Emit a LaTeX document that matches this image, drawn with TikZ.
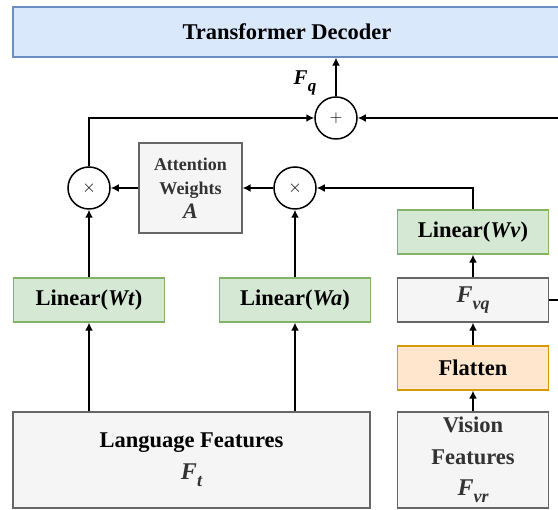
\documentclass[tikz,border=0pt]{standalone}
\usepackage{fontspec}
\setmainfont{Liberation Serif}
\usetikzlibrary{arrows.meta}
\definecolor{decfill}{HTML}{DAE8FC}
\definecolor{decline}{HTML}{6C8EBF}
\definecolor{grnfill}{HTML}{D5E8D4}
\definecolor{grnline}{HTML}{82B366}
\definecolor{orgfill}{HTML}{FFE6CC}
\definecolor{orgline}{HTML}{D79B00}
\definecolor{gryfill}{HTML}{F5F5F5}
\definecolor{gryline}{HTML}{666666}
\definecolor{grytext}{HTML}{333333}
\newcommand{\lowsub}[2]{\raisebox{-0.3em}{\fontsize{#1}{#1}\selectfont\bfseries\itshape #2}}
\begin{document}
\begin{tikzpicture}[x=1pt,y=-1pt,
  box/.style={draw, line width=1.3pt, inner sep=0pt, align=center,
    font=\fontsize{22.5}{25}\selectfont\bfseries},
  decbox/.style={box, fill=decfill, draw=decline},
  grnbox/.style={box, fill=grnfill, draw=grnline, minimum width=151pt, minimum height=44pt},
  orgbox/.style={box, fill=orgfill, draw=orgline, minimum width=151pt, minimum height=44pt},
  grybox/.style={box, fill=gryfill, draw=gryline, text=grytext},
  opnode/.style={circle, draw, line width=1.5pt, fill=white, minimum size=42pt, inner sep=0pt,
    font=\fontsize{17}{17}\selectfont},
  arr/.style={line width=1.6pt, -{Latex[length=8pt,width=8pt]}},
  ln/.style={line width=1.6pt}
]
\useasboundingbox (0,0) rectangle (558,510);
\clip (0,0) rectangle (558,510);

% boxes
\node[decbox, minimum width=548pt, minimum height=50pt] (dec) at (287,32) {Transformer Decoder};
\node[opnode] (plus) at (336,118) {$+$};
\node[opnode] (t1) at (89,188) {$\times$};
\node[opnode] (t2) at (295,188) {$\times$};
\node[grybox, minimum width=103pt, minimum height=90pt,
  font=\fontsize{18}{24}\selectfont\bfseries] (attn) at (190.5,188)
  {Attention\\Weights\\{\fontsize{22}{22}\selectfont\itshape A}};
\node[grnbox] (wt) at (89,300) {Linear(\textit{Wt})};
\node[grnbox] (wa) at (295,300) {Linear(\textit{Wa})};
\node[grnbox] (wv) at (473,232) {Linear(\textit{Wv})};
\node[grybox, minimum width=151pt, minimum height=44pt] (fvq) at (473,300)
  {{\fontsize{24}{24}\selectfont\itshape F}\lowsub{18}{vq}};
\node[orgbox] (flat) at (473,368) {Flatten};
\node[grybox, minimum width=357pt, minimum height=96pt, font=\fontsize{22.5}{32}\selectfont\bfseries] (lang) at (191.5,460)
  {\textcolor{black}{Language Features}\\{\fontsize{24}{24}\selectfont\itshape F}\lowsub{18}{t}};
\node[grybox, minimum width=151pt, minimum height=96pt, font=\fontsize{22.5}{31.5}\selectfont\bfseries] (vis) at (473,460)
  {Vision\\Features\\{\fontsize{24}{24}\selectfont\itshape F}\lowsub{18}{vr}};

% label
\node[font=\fontsize{21}{21}\selectfont\bfseries] (fq) at (305,83)
  {{\itshape F}\lowsub{17}{q}};

\coordinate (rt) at (575,300);

% connectors
\draw[arr] (plus.north) -- (plus.north |- dec.south);
\draw[arr] (t1.north) |- (plus.west);
\draw[arr] (fvq.east) -- (rt) |- (plus.east);
\draw[arr] (attn.west) -- (t1.east);
\draw[arr] (t2.west) -- (attn.east);
\draw[arr] (wv.north) |- (t2.east);
\draw[arr] (wt.north) -- (t1.south);
\draw[arr] (wa.north) -- (t2.south);
\draw[arr] (wt.south |- lang.north) -- (wt.south);
\draw[arr] (wa.south |- lang.north) -- (wa.south);
\draw[arr] (vis.north) -- (flat.south);
\draw[arr] (flat.north) -- (fvq.south);
\draw[arr] (fvq.north) -- (wv.south);
\end{tikzpicture}
\end{document}
